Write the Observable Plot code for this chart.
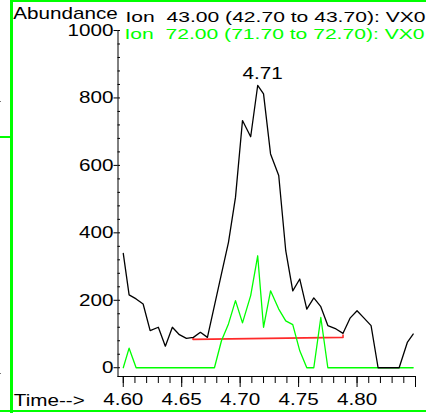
<!DOCTYPE html>
<html>
<head>
<meta charset="utf-8">
<script src="https://cdn.jsdelivr.net/npm/d3@7"></script>
<script src="https://cdn.jsdelivr.net/npm/@observablehq/plot@0.6"></script>
<style>
  html, body { margin: 0; padding: 0; background: #fff; }
  #wrap { position: relative; width: 426px; height: 413px; overflow: hidden; }
  .deco { position: absolute; background: #00ff00; }
  .dot { position: absolute; background: #777; width: 1px; height: 1px; }
  svg { overflow: hidden; }
</style>
</head>
<body>
<div id="wrap"></div>
<script>
// ---- data ----
const times = [4.600,4.605,4.611,4.617,4.623,4.630,4.636,4.642,4.648,4.654,4.660,4.666,4.672,4.678,4.684,4.690,4.696,4.702,4.709,4.715,4.720,4.726,4.733,4.739,4.745,4.751,4.757,4.763,4.769,4.775,4.782,4.788,4.794,4.800,4.806,4.812,4.818,4.824,4.830,4.836,4.843,4.848];
const ion43 = [339,216,204,189,110,120,64,120,98,87,90,105,90,184,278,372,505,733,685,837,812,634,570,347,228,263,174,207,181,125,115,102,147,169,147,125,0,0,0,0,75,100];
const ion72 = [0,58,0,0,0,0,0,0,0,0,0,0,0,0,80,130,199,133,214,332,120,228,174,139,128,50,0,0,149,0,0,0,0,0,0,0,0,0,0,0,0,0];
const baseTimes = [4.6597,4.6597,4.788,4.788];
const baseVals = [88,84,90,97];
const peakLabel = "4.71";
const yTicks = [0,200,400,600,800,1000];
const yMinor = d3.range(0,1001,40);
const xMajor = [4.60,4.65,4.70,4.75,4.80,4.85];
const xLabels = [4.60,4.65,4.70,4.75,4.80];
const xMinor = d3.range(460,486).map(d => d/100);
const yTitle = "Abundance";
const xTitle = "Time-->";
const legend1 = "Ion  43.00 (42.70 to 43.70): VX0";
const legend2 = "Ion  72.00 (71.70 to 72.70): VX0";

const black = times.map((t,i) => ({t, v: ion43[i]}));
const green = times.map((t,i) => ({t, v: ion72[i]}));
const base = baseTimes.map((t,i) => ({t, v: baseVals[i]}));
const peak = black.reduce((a,b) => b.v > a.v ? b : a);

const GREEN = "#00ff00";

const chart = Plot.plot({
  width: 426, height: 413,
  marginLeft: 117.5, marginRight: 11, marginTop: 30, marginBottom: 37,
  style: {fontFamily: "'Liberation Sans', Arial, sans-serif", fontSize: "16.8px", color: "#000", background: "#fff"},
  x: {domain: [4.5955, 4.85], axis: null},
  y: {domain: [-26, 1000], axis: null},
  marks: [
    Plot.frame({anchor: "left", stroke: "#000"}),
    Plot.frame({anchor: "bottom", stroke: "#000"}),
    Plot.axisY(yMinor, {tickSize: -2.5, text: null, label: null}),
    Plot.axisY(yTicks, {tickSize: 4, tickPadding: 0.5, label: null, tickFormat: d => String(d)}),
    Plot.axisX(xMinor, {tickSize: 7, text: null, label: null}),
    Plot.axisX(xMajor, {tickSize: 11, text: null, label: null}),
    Plot.axisX(xLabels, {tickSize: 0, tickPadding: 17, label: null, tickFormat: d3.format(".2f")}),
    Plot.line(base, {x: "t", y: "v", stroke: "#ff2a2a", strokeWidth: 1.6}),
    Plot.line(green, {x: "t", y: "v", stroke: GREEN, strokeWidth: 1.3}),
    Plot.line(black, {x: "t", y: "v", stroke: "#000", strokeWidth: 1.3}),
    Plot.text([peak], {x: "t", y: "v", text: () => peakLabel, dx: 5, dy: -6, lineAnchor: "bottom", fill: "#000"}),
    Plot.text([yTitle], {frameAnchor: "top-left", text: d => d, textAnchor: "start", lineAnchor: "bottom", dx: -104.8, dy: -11.7, fill: "#000"}),
    Plot.text([legend1], {frameAnchor: "top-left", text: d => d, textAnchor: "start", lineAnchor: "bottom", dx: 7.5, dy: -8.7, fontSize: 15.5, fill: "#000"}),
    Plot.text([legend2], {frameAnchor: "top-left", text: d => d, textAnchor: "start", lineAnchor: "bottom", dx: 6.5, dy: 8.5, fontSize: 15.5, fill: GREEN}),
    Plot.text([xTitle], {frameAnchor: "bottom-left", text: d => d, textAnchor: "start", lineAnchor: "bottom", dx: -104.2, dy: 29.5, fill: "#000"})
  ]
});

// the reference font is horizontally stretched; keep widths equal whatever the size
d3.select(chart).selectAll("text").each(function() {
  const fs = parseFloat(this.getAttribute("font-size") || (this.parentNode && this.parentNode.getAttribute && this.parentNode.getAttribute("font-size"))) || 16.8;
  const k = (fs < 16 ? 1.255 : 1.23) * 16.8 / fs;
  const tr = this.getAttribute("transform");
  if (tr) this.setAttribute("transform", tr + ` scale(${k.toFixed(3)},1)`);
  else {
    const x = +this.getAttribute("x") || 0, y = +this.getAttribute("y") || 0;
    this.removeAttribute("x"); this.removeAttribute("y");
    this.setAttribute("transform", `translate(${x},${y}) scale(${k.toFixed(3)},1)`);
  }
});

const wrap = document.getElementById("wrap");
wrap.appendChild(chart);
// green window border (decoration around the screenshot)
[
  {left: 10, top: 0, width: 2.5, height: 413},
  {left: 10, top: 0, width: 416, height: 1.5},
  {left: 0, top: 410, width: 426, height: 2},
  {left: 0, top: 136, width: 11, height: 1.5}
].forEach(s => {
  const d = document.createElement("div");
  d.className = "deco";
  Object.assign(d.style, {left: s.left + "px", top: s.top + "px", width: s.width + "px", height: s.height + "px"});
  wrap.appendChild(d);
});
[{left: 0, top: 101}, {left: 0, top: 373}].forEach(s => {
  const d = document.createElement("div");
  d.className = "dot";
  d.style.left = s.left + "px"; d.style.top = s.top + "px";
  wrap.appendChild(d);
});
</script>
</body>
</html>
